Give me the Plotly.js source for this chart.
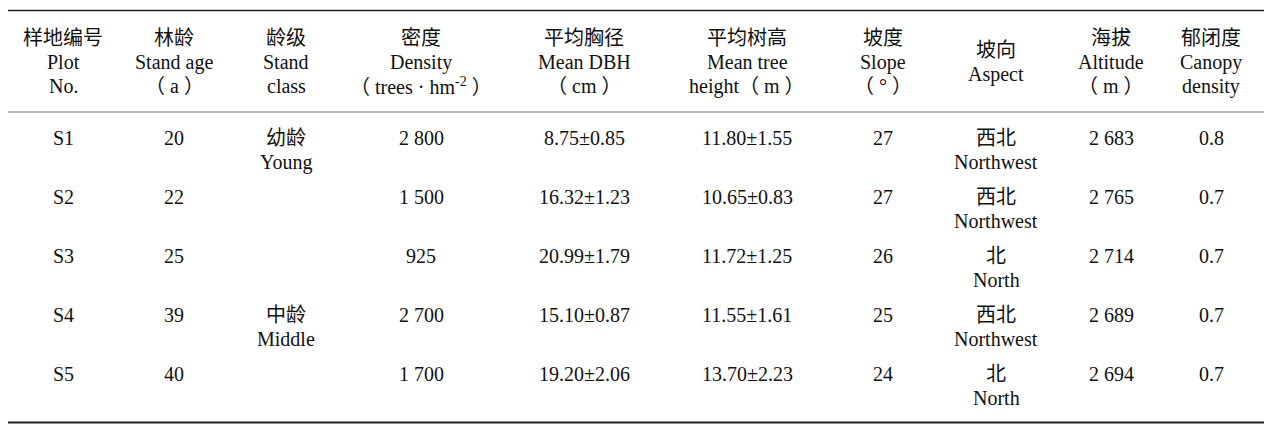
<!DOCTYPE html>
<html>
<head>
<meta charset="utf-8">
<script src="https://cdn.plot.ly/plotly-3.0.1.min.js"></script>
<style>
  html, body { margin: 0; padding: 0; background: #fff; }
  #table { width: 1273px; height: 432px; }
</style>
</head>
<body>
<div id="table"></div>
<script>
// table values
let headers = [
  ["样地编号", "Plot", "No."],
  ["林龄", "Stand age", "（ a ）"],
  ["龄级", "Stand", "class"],
  ["密度", "Density", "（ trees · hm<sup>-2</sup> ）"],
  ["平均胸径", "Mean DBH", "（ cm ）"],
  ["平均树高", "Mean tree", "height（ m ）"],
  ["坡度", "Slope", "（ ° ）"],
  ["坡向", "Aspect"],
  ["海拔", "Altitude", "（ m ）"],
  ["郁闭度", "Canopy", "density"]
];

let plotNo = ["S1", "S2", "S3", "S4", "S5"];
let standAge = [20, 22, 25, 39, 40];
let standClass = [["幼龄", "Young"], [], [], ["中龄", "Middle"], []];
let density = [2800, 1500, 925, 2700, 1700];
let dbhMean = [8.75, 16.32, 20.99, 15.10, 19.20];
let dbhSd = [0.85, 1.23, 1.79, 0.87, 2.06];
let heightMean = [11.80, 10.65, 11.72, 11.55, 13.70];
let heightSd = [1.55, 0.83, 1.25, 1.61, 2.23];
let slope = [27, 27, 26, 25, 24];
let aspect = [["西北", "Northwest"], ["西北", "Northwest"], ["北", "North"], ["西北", "Northwest"], ["北", "North"]];
let altitude = [2683, 2765, 2714, 2689, 2694];
let canopy = [0.8, 0.7, 0.7, 0.7, 0.7];

// layout: column centres and row positions in pixels
const colX = [63, 174, 286, 421, 584, 747, 883, 996, 1111, 1211];
const headerMid = 62;
const rowTop = 138;
const rowStep = 59;
const lineH = 24;

// thousands separated by a space, as in the journal
function thou(n) {
  return String(n).replace(/\B(?=(\d{3})+(?!\d))/g, " ");
}

function pm(m, s) {
  return m.toFixed(2) + "±" + s.toFixed(2);
}

let rows = plotNo.map(function (p, i) {
  return [
    [p],
    [String(standAge[i])],
    standClass[i],
    [thou(density[i])],
    [pm(dbhMean[i], dbhSd[i])],
    [pm(heightMean[i], heightSd[i])],
    [String(slope[i])],
    aspect[i],
    [thou(altitude[i])],
    [canopy[i].toFixed(1)]
  ];
});

let annotations = [];

function addLine(text, x, y) {
  annotations.push({
    text: text,
    x: x,
    y: y,
    xref: "x",
    yref: "y",
    xanchor: "center",
    yanchor: "middle",
    showarrow: false
  });
}

headers.forEach(function (lines, c) {
  let start = headerMid - (lines.length - 1) * lineH / 2;
  lines.forEach(function (t, k) {
    addLine(t, colX[c], start + k * lineH);
  });
});

rows.forEach(function (cells, r) {
  cells.forEach(function (lines, c) {
    lines.forEach(function (t, k) {
      addLine(t, colX[c], rowTop + r * rowStep + k * lineH);
    });
  });
});

let rules = [
  { y: 10.5, w: 1.6, color: "#222" },
  { y: 112, w: 1, color: "#777" },
  { y: 422.5, w: 2, color: "#222" }
].map(function (r) {
  return {
    type: "line",
    xref: "x",
    yref: "y",
    x0: 8,
    x1: 1264,
    y0: r.y,
    y1: r.y,
    line: { color: r.color, width: r.w }
  };
});

let layout = {
  width: 1273,
  height: 432,
  margin: { l: 0, r: 0, t: 0, b: 0, pad: 0 },
  paper_bgcolor: "#fff",
  plot_bgcolor: "#fff",
  showlegend: false,
  font: {
    family: "'Liberation Serif', 'Noto Sans CJK SC', serif",
    size: 20,
    color: "#111"
  },
  xaxis: { range: [0, 1273], visible: false, fixedrange: true },
  yaxis: { range: [432, 0], visible: false, fixedrange: true },
  annotations: annotations,
  shapes: rules
};

Plotly.newPlot("table", [], layout, { staticPlot: true, displayModeBar: false });
</script>
</body>
</html>
